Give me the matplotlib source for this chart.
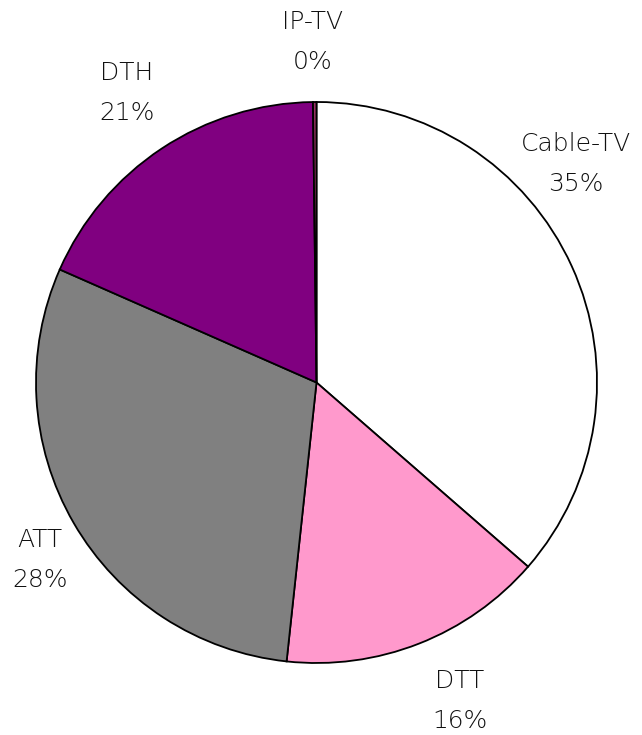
import matplotlib
matplotlib.use("Agg")
import matplotlib.pyplot as plt

categories = ["Cable-TV", "DTT", "ATT", "DTH", "IP-TV"]
shares = [36.4, 15.3, 29.9, 18.2, 0.2]
pct_labels = ["35%", "16%", "28%", "21%", "0%"]
colors = ["#FFFFFF", "#FF99CC", "#808080", "#800080", "#993366"]

plt.rcParams['font.family'] = ['DejaVu Sans']

fig = plt.figure(figsize=(6.42, 7.35), dpi=100)
ax = fig.add_axes([0, 0, 1, 1])
cx, cy, r = 316.5, 382.5, 280.5

ax.pie(shares, colors=colors, startangle=90, counterclock=False, radius=1.0,
       center=(0, 0), frame=False,
       wedgeprops=dict(edgecolor="black", linewidth=1.3))
ax.set_xlim(-cx / r, (642 - cx) / r)
ax.set_ylim(-(735 - cy) / r, cy / r)
ax.set_aspect("auto")
ax.axis("off")

label_px = [(576, 164), (460, 701), (40, 560), (127, 93), (313, 42)]
for cat, pl, (px, py) in zip(categories, pct_labels, label_px):
    ax.text((px - cx) / r, (cy - py) / r, f"{cat}\n{pl}", ha="center", va="center",
            fontsize=18, fontweight="light", color="#111111", linespacing=1.85)

fig.savefig("out.png", dpi=100)
